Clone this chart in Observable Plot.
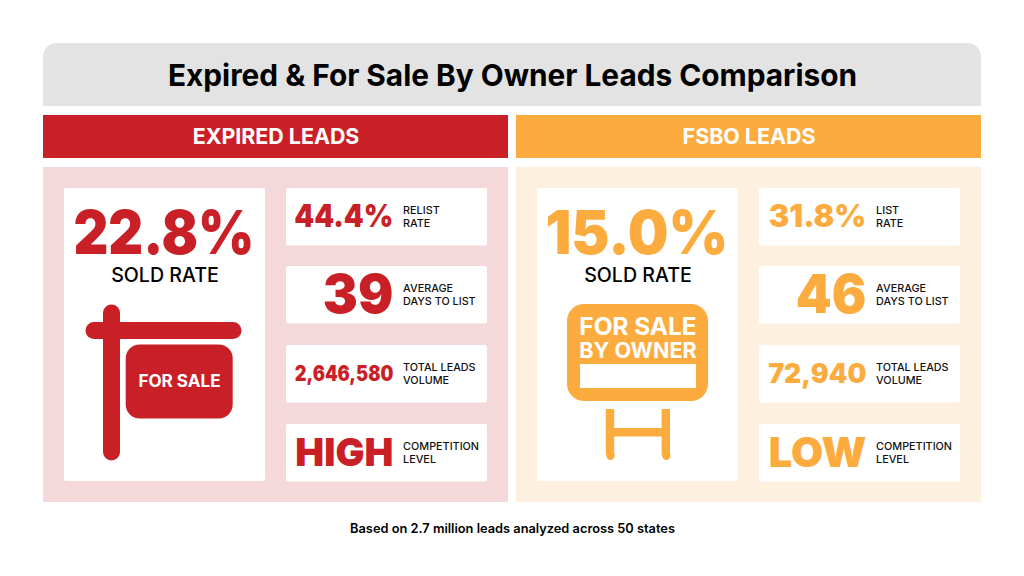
<!DOCTYPE html>
<html>
<head>
<meta charset="utf-8">
<script src="https://cdn.jsdelivr.net/npm/d3@7"></script>
<script src="https://cdn.jsdelivr.net/npm/@observablehq/plot@0.6"></script>
<style>
html,body{margin:0;padding:0;background:#fff;overflow:hidden}
svg{display:block}
</style>
</head>
<body>
<script>
const title = "Expired & For Sale By Owner Leads Comparison";
const footnote = "Based on 2.7 million leads analyzed across 50 states";
const panelNames = ["EXPIRED LEADS", "FSBO LEADS"];
const soldRates = ["22.8%", "15.0%"];
const soldLabel = "SOLD RATE";
const expiredValues = ["44.4%", "39", "2,646,580", "HIGH"];
const fsboValues = ["31.8%", "46", "72,940", "LOW"];
const expiredLabels = ["RELIST\nRATE", "AVERAGE\nDAYS TO LIST", "TOTAL LEADS\nVOLUME", "COMPETITION\nLEVEL"];
const fsboLabels = ["LIST\nRATE", "AVERAGE\nDAYS TO LIST", "TOTAL LEADS\nVOLUME", "COMPETITION\nLEVEL"];

const RED = "#c92027", ORANGE = "#fcac3e", FONT = "Inter";
const panels = [
  {i: 0, x: 43, color: RED, tint: "#f5d9da", values: expiredValues, labels: expiredLabels, soldWidth: 181},
  {i: 1, x: 516, color: ORANGE, tint: "#fdf0df", values: fsboValues, labels: fsboLabels, soldWidth: 183}
];
const rowTops = [188, 266, 345, 424];
const rowSizes = [[31, 54, 21, 39], [31, 54, 27, 41]];
const rowWidths = [[99, 70.5, 98.5, 98], [97.5, 70.5, 98, 97.5]];

const rows = panels.flatMap(p => p.values.map((v, r) => ({
  value: v, label: p.labels[r], color: p.color, x: p.x, y: rowTops[r],
  size: rowSizes[p.i][r], fit: rowWidths[p.i][r]
})));

// Text mark; `fit` scales the run to a measured width, matching the reference's narrower display cut.
const T = (data, {fit, ...o}) => Plot.text(data, {
  fontFamily: FONT, lineAnchor: "middle", ...o,
  ...(fit ? {render(index, scales, values, dims, ctx, next) {
    const g = next(index, scales, values, dims, ctx);
    d3.select(g).selectAll("text").attr("textLength", fit).attr("lengthAdjust", "spacingAndGlyphs");
    return g;
  }} : {})
});
const R = (x1, x2, y1, y2, fill, rx = 0) =>
  Plot.rect([{x1, x2, y1, y2}], {x1: "x1", x2: "x2", y1: "y1", y2: "y2", fill: () => fill, rx, inset: 0});
const L = (pts, stroke, w, cap = "round") =>
  Plot.line(pts, {x: d => d[0], y: d => d[1], stroke: () => stroke, strokeWidth: w, strokeLinecap: cap, curve: "linear"});

const marks = [
  R(43, 981, 43, 106, "#e3e3e3", 14),
  R(43, 981, 80, 106, "#e3e3e3"),
  T([title], {x: () => 512, y: () => 75.5, text: d => d, fontSize: 29.8, fontWeight: 700, fill: "#000"}),
  T([footnote], {x: () => 512, y: () => 528.5, text: d => d, fontSize: 12.8, fontWeight: 600, fill: "#000"}),
];

for (const p of panels) {
  marks.push(
    R(p.x, p.x + 465, 115, 158, p.color),
    R(p.x, p.x + 465, 167, 502, p.tint),
    R(p.x + 21, p.x + 222, 188, 481, "#fff", 2),
    T([panelNames[p.i]], {x: () => p.x + 232.5, y: () => 137, text: d => d, fontSize: 21.4, fontWeight: 700, fill: "#fff"}),
    T([soldRates[p.i]], {x: () => p.x + 120.4, y: () => 233.5, text: d => d, fontSize: 61, fontWeight: 900, fill: p.color, fit: p.soldWidth}),
    T([soldLabel], {x: () => p.x + 121.5, y: () => 275, text: d => d, fontSize: 19.6, fontWeight: 500, fill: "#000"})
  );
}

for (const r of rows) {
  marks.push(
    R(r.x + 243, r.x + 444, r.y, r.y + 57.5, "#fff", 2),
    T([r.value], {x: () => r.x + 349.8, y: () => r.y + 29, text: d => d, textAnchor: "end", fontSize: r.size, fontWeight: 900, fill: r.color, fit: r.fit}),
    T([r.label], {x: () => r.x + 359.6, y: () => r.y + 28, text: d => d, textAnchor: "start", fontSize: 10.8, fontWeight: 500, lineHeight: 1.18, fill: "#111"})
  );
}

// "For sale" post sign
marks.push(
  L([[111, 312.5], [111, 451.5]], RED, 17),
  L([[93.5, 330], [232.5, 330]], RED, 17),
  R(125.7, 232.7, 344.5, 418.5, RED, 14),
  T(["FOR SALE"], {x: () => 179, y: () => 381.5, text: d => d, fontSize: 17.1, fontWeight: 700, fill: "#fff"})
);

// FSBO yard sign
marks.push(
  R(567, 708, 304, 401, ORANGE, 17),
  R(580, 696, 364, 388, "#fff"),
  T(["FOR SALE"], {x: () => 637.5, y: () => 327, text: d => d, fontSize: 24.4, fontWeight: 700, fill: "#fff"}),
  T(["BY OWNER"], {x: () => 637.5, y: () => 350.5, text: d => d, fontSize: 21.6, fontWeight: 700, fill: "#fff"}),
  R(605.8, 614.2, 409, 455, ORANGE),
  R(661.6, 670, 409, 455, ORANGE),
  L([[610, 455], [610, 455.2]], ORANGE, 8.4),
  L([[665.8, 455], [665.8, 455.2]], ORANGE, 8.4),
  R(610, 666, 428, 436.5, ORANGE)
);

const chart = Plot.plot({
  width: 1024, height: 576,
  margin: 0,
  x: {domain: [0, 1024], range: [0, 1024], axis: null},
  y: {domain: [0, 576], range: [0, 576], axis: null},
  style: {background: "#fff"},
  marks
});
document.body.appendChild(chart);
</script>
</body>
</html>
